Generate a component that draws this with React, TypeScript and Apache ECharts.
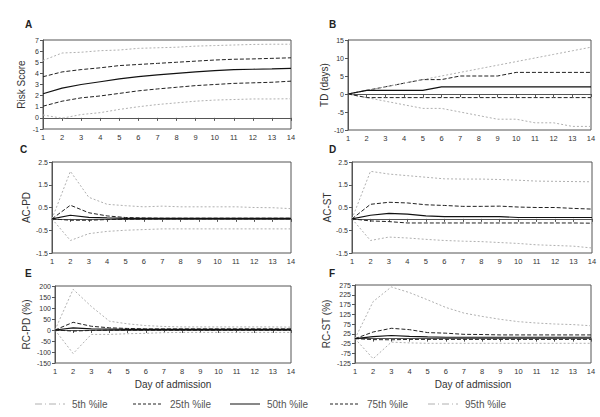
import React, { useEffect, useRef } from "react";
import * as echarts from "echarts";

const days = [1, 2, 3, 4, 5, 6, 7, 8, 9, 10, 11, 12, 13, 14];
const pctNames = ["5th %ile", "25th %ile", "50th %ile", "75th %ile", "95th %ile"];

// Panel A: Risk Score
const riskP5 = [0.26, -0.03, 0.3, 0.47, 0.76, 1.0, 1.2, 1.35, 1.5, 1.6, 1.65, 1.7, 1.7, 1.72];
const riskP25 = [1.05, 1.5, 1.8, 1.97, 2.2, 2.43, 2.6, 2.75, 2.9, 3.0, 3.1, 3.15, 3.2, 3.3];
const riskP50 = [2.17, 2.67, 3.0, 3.25, 3.5, 3.7, 3.87, 4.0, 4.13, 4.25, 4.33, 4.37, 4.4, 4.45];
const riskP75 = [3.7, 4.13, 4.34, 4.5, 4.7, 4.8, 4.9, 5.0, 5.1, 5.2, 5.27, 5.3, 5.35, 5.4];
const riskP95 = [5.16, 5.83, 5.9, 6.04, 6.1, 6.25, 6.3, 6.35, 6.45, 6.5, 6.55, 6.6, 6.62, 6.62];

// Panel B: TD (days)
const tdP5 = [0, -1, -2, -3, -4, -4, -5, -6, -7, -7, -8, -8, -9, -9];
const tdP25 = [0, -1, -1, -1, -1, -1, -1, -1, -1, -1, -1, -1, -1, -1];
const tdP50 = [0, 1, 1, 1, 1, 2, 2, 2, 2, 2, 2, 2, 2, 2];
const tdP75 = [0, 1, 2, 3, 4, 4, 5, 5, 5, 6, 6, 6, 6, 6];
const tdP95 = [0, 1, 2, 3, 4, 5, 6, 7, 8, 9, 10, 11, 12, 13];

// Panel C: AC-PD
const acpdP5 = [0, -0.95, -0.65, -0.55, -0.5, -0.47, -0.44, -0.44, -0.44, -0.44, -0.44, -0.44, -0.44, -0.44];
const acpdP25 = [0, -0.06, -0.06, -0.03, -0.02, -0.01, 0, 0, 0, 0, 0, 0, 0, 0];
const acpdP50 = [0, 0.16, 0.07, 0.04, 0.02, 0.02, 0.02, 0.02, 0.02, 0.02, 0.02, 0.02, 0.02, 0.02];
const acpdP75 = [0, 0.6, 0.27, 0.13, 0.06, 0.04, 0.03, 0.03, 0.03, 0.03, 0.03, 0.03, 0.03, 0.03];
const acpdP95 = [0, 2.09, 0.95, 0.64, 0.58, 0.53, 0.56, 0.53, 0.53, 0.53, 0.53, 0.5, 0.49, 0.45];

// Panel D: AC-ST
const acstP5 = [0, -0.95, -0.8, -0.84, -0.9, -0.95, -0.98, -1.0, -1.04, -1.08, -1.14, -1.17, -1.2, -1.28];
const acstP25 = [0, -0.09, -0.12, -0.18, -0.18, -0.18, -0.18, -0.18, -0.18, -0.18, -0.18, -0.18, -0.18, -0.19];
const acstP50 = [0, 0.16, 0.24, 0.21, 0.13, 0.1, 0.1, 0.1, 0.1, 0.06, 0.06, 0.06, 0.06, 0.06];
const acstP75 = [0, 0.64, 0.73, 0.7, 0.62, 0.59, 0.55, 0.55, 0.56, 0.52, 0.5, 0.5, 0.46, 0.43];
const acstP95 = [0, 2.09, 1.97, 1.9, 1.83, 1.76, 1.75, 1.75, 1.73, 1.7, 1.66, 1.65, 1.64, 1.63];

// Panel E: RC-PD (%)
const rcpdP5 = [0, -107, -20, -20, -17, -15, -12, -11, -11, -11, -11, -11, -11, -11];
const rcpdP25 = [0, -5, -2, -1, -1, -1, -1, -1, -1, -1, -1, -1, -1, -1];
const rcpdP50 = [0, 10, 5, 4, 2.5, 2.5, 2.5, 2.5, 2.5, 2.5, 2.5, 2.5, 2.5, 2.5];
const rcpdP75 = [0, 35, 17, 10, 7, 5, 5, 5, 5, 5, 5, 5, 5, 5];
const rcpdP95 = [0, 185, 107, 40, 28, 20, 16, 14, 14, 14, 14, 14, 14, 13];

// Panel F: RC-ST (%)
const rcstP5 = [0, -103, -18, -22, -24, -24, -24, -24, -24, -24, -24, -24, -24, -24];
const rcstP25 = [0, -5, -6, -4, -4, -4, -4, -4, -4, -4, -4, -4, -4, -4];
const rcstP50 = [0, 10, 16, 12, 9, 7, 7, 7, 7, 7, 7, 7, 7, 7];
const rcstP75 = [0, 34, 53, 46, 31, 28, 22, 21, 19, 19, 19, 19, 19, 19];
const rcstP95 = [0, 190, 265, 236, 199, 160, 131, 114, 99, 87, 80, 75, 72, 66];

const panels = [
  { letter: "A", yName: "Risk Score", min: -1, max: 7, interval: 1, data: [riskP5, riskP25, riskP50, riskP75, riskP95],
    grid: { left: 43, top: 40, width: 248, height: 89 }, letterPos: [25, 19], nameGap: 17, xName: "" },
  { letter: "B", yName: "TD (days)", min: -10, max: 15, interval: 5, data: [tdP5, tdP25, tdP50, tdP75, tdP95],
    grid: { left: 348, top: 40, width: 243, height: 90 }, letterPos: [329, 19], nameGap: 17, xName: "" },
  { letter: "C", yName: "AC-PD", min: -1.5, max: 2.5, interval: 1, data: [acpdP5, acpdP25, acpdP50, acpdP75, acpdP95],
    grid: { left: 52, top: 162, width: 239, height: 91 }, letterPos: [20, 144], nameGap: 21, xName: "" },
  { letter: "D", yName: "AC-ST", min: -1.5, max: 2.5, interval: 1, data: [acstP5, acstP25, acstP50, acstP75, acstP95],
    grid: { left: 352, top: 162, width: 240, height: 91 }, letterPos: [329, 144], nameGap: 20, xName: "" },
  { letter: "E", yName: "RC-PD (%)", min: -150, max: 200, interval: 50, data: [rcpdP5, rcpdP25, rcpdP50, rcpdP75, rcpdP95],
    grid: { left: 55, top: 286, width: 236, height: 77 }, letterPos: [25, 268], nameGap: 24, xName: "Day of admission" },
  { letter: "F", yName: "RC-ST (%)", min: -125, max: 275, interval: 50, data: [rcstP5, rcstP25, rcstP50, rcstP75, rcstP95],
    grid: { left: 355, top: 285, width: 236, height: 78 }, letterPos: [329, 268], nameGap: 24, xName: "Day of admission" },
];

const lineStyles = [
  { color: "#b0b0b0", width: 1, type: [2, 2] },
  { color: "#222222", width: 1, type: [4, 2] },
  { color: "#111111", width: 1.2, type: "solid" },
  { color: "#222222", width: 1, type: [4, 2] },
  { color: "#b0b0b0", width: 1, type: [2, 2] },
];
const legendDash = [[7, 3, 1, 3], [3, 2], null, [3, 2], [7, 3, 1, 3]];
const legendLefts = [35, 133, 230, 330, 428];
const FONT = "Liberation Sans, Arial, sans-serif";

export default function App() {
  const ref = useRef<HTMLDivElement>(null);
  useEffect(() => {
    if (!ref.current) return;
    const chart = echarts.init(ref.current, undefined, { renderer: "svg" });
    const grids: any[] = [];
    const xAxes: any[] = [];
    const yAxes: any[] = [];
    const series: any[] = [];
    const graphics: any[] = [];
    panels.forEach((p, i) => {
      grids.push({ ...p.grid, show: true, borderColor: "#555", borderWidth: 1, backgroundColor: "transparent" });
      xAxes.push({
        type: "value", gridIndex: i, min: 1, max: 14, interval: 1,
        name: p.xName, nameLocation: "middle", nameGap: 16,
        nameTextStyle: { fontSize: 10, color: "#333", fontFamily: FONT },
        axisLine: { show: true, lineStyle: { color: "#555" } },
        axisTick: { show: true, length: 3, lineStyle: { color: "#555" } },
        axisLabel: { fontSize: 7.5, color: "#333", margin: 4, fontFamily: FONT },
        splitLine: { show: false },
      });
      yAxes.push({
        type: "value", gridIndex: i, min: p.min, max: p.max, interval: p.interval,
        name: p.yName, nameLocation: "middle", nameGap: p.nameGap, nameRotate: 90,
        nameTextStyle: { fontSize: 10, color: "#333", fontFamily: FONT },
        axisLine: { show: true, lineStyle: { color: "#555" } },
        axisTick: { show: true, length: 3, lineStyle: { color: "#555" } },
        axisLabel: { fontSize: 7, color: "#333", margin: 4, fontFamily: FONT },
        splitLine: { show: false },
      });
      p.data.forEach((arr, k) => {
        series.push({
          type: "line", name: pctNames[k], xAxisIndex: i, yAxisIndex: i,
          data: days.map((d, j) => [d, arr[j]]),
          symbol: "none", lineStyle: lineStyles[k], itemStyle: { color: lineStyles[k].color },
          z: k === 2 ? 4 : 3,
        });
      });
      graphics.push({
        type: "text", left: p.letterPos[0], top: p.letterPos[1],
        style: { text: p.letter, font: "bold 10px Liberation Sans, Arial, sans-serif", fill: "#222" },
      });
    });
    pctNames.forEach((n, k) => {
      const x0 = legendLefts[k];
      graphics.push({
        type: "line",
        shape: { x1: x0, y1: 404, x2: x0 + 30, y2: 404 },
        style: { stroke: lineStyles[k].color, lineWidth: 1, lineDash: legendDash[k] || undefined },
      });
      graphics.push({
        type: "text", x: x0 + 37, y: 404,
        style: { text: n, font: "10px Liberation Sans, Arial, sans-serif", fill: "#555", verticalAlign: "middle" },
      });
    });
    chart.setOption({
      animation: false,
      backgroundColor: "#ffffff",
      grid: grids, xAxis: xAxes, yAxis: yAxes, series, graphic: graphics,
    });
    return () => chart.dispose();
  }, []);
  return <div ref={ref} style={{ position: "fixed", left: 0, top: 0, width: 600, height: 417 }} />;
}
